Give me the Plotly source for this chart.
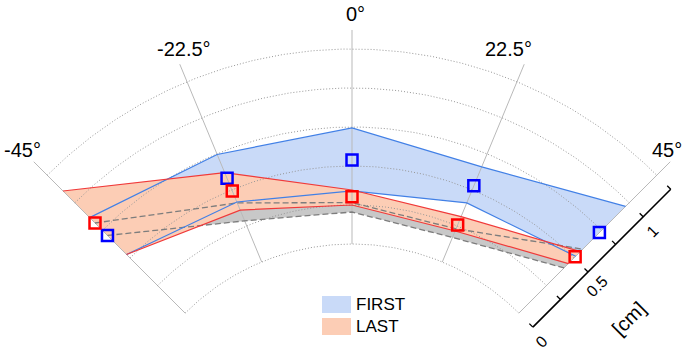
import numpy as np
import plotly.graph_objects as go

# ---------------- data (angles in degrees, radial values in cm) ----------------
angles = [-45, -22.5, 0, 22.5, 45]
first_mean = [0.704, 0.580, 0.538, 0.528, 0.730]
first_upper = [0.866, 0.746, 0.744, 0.660, 0.967]
first_lower = [0.531, 0.416, 0.340, 0.410, 0.515]
last_mean = [0.817, 0.493, 0.303, 0.257, 0.510]
last_upper = [1.107, 0.620, 0.346, 0.315, 0.558]
last_lower = [0.531, 0.360, 0.250, 0.215, 0.449]
ref_upper = [0.817, 0.410, 0.265, 0.230, 0.580]
ref_lower = [0.704, 0.285, 0.205, 0.170, 0.410]

angle_ticks = [-45, -22.5, 0, 22.5, 45]
angle_labels = ["-45°", "-22.5°", "0°", "22.5°", "45°"]
r_grid = [0, 0.25, 0.5, 0.75, 1.0, 1.25]
r_ticks = [0, 0.25, 0.5, 0.75, 1.0, 1.25]
r_ticklabel_vals = [0, 0.5, 1.0]
r_ticklabel_text = ["0", "0.5", "1"]
legend_names = ["FIRST", "LAST"]

# ---------------- geometry / style ----------------
W, H = 686, 354
PX = 156.0                 # pixels per cm
CX, CY = 352.0, 480.0      # pixel position of the polar centre
HOLE = 236.0 / PX          # inner hole radius (r = 0 sits here)
R_MAX = 1.372
FONT = "Liberation Sans, Arial, sans-serif"

BLUE_FILL = "rgba(165,193,243,0.6)"
BLUE_LINE = "rgb(66,128,230)"
RED_FILL = "rgb(252,205,181)"
RED_LINE = "rgb(240,58,58)"
GRAY_FILL = "rgb(200,200,200)"
GRAY_DASH = "rgb(125,125,125)"


def xy(theta, r):
    t = np.radians(np.asarray(theta, dtype=float))
    rr = HOLE + np.asarray(r, dtype=float)
    return rr * np.sin(t), rr * np.cos(t)


def band(upper, lower):
    th = list(angles) + list(angles[::-1])
    rr = list(upper) + list(lower[::-1])
    x, y = xy(th, rr)
    return list(x) + [x[0]], list(y) + [y[0]]


fig = go.Figure()

# ---- filled bands ----
for up, lo, col in [(ref_upper, ref_lower, GRAY_FILL),
                    (first_upper, first_lower, BLUE_FILL),
                    (last_upper, last_lower, RED_FILL)]:
    bx, by = band(up, lo)
    fig.add_trace(go.Scatter(x=bx, y=by, mode="lines", fill="toself",
                             fillcolor=col, line=dict(width=0),
                             hoverinfo="skip", showlegend=False))

# ---- grid: spokes and dotted arcs ----
for a in angle_ticks:
    sx, sy = xy([a, a], [0, R_MAX])
    fig.add_trace(go.Scatter(x=sx, y=sy, mode="lines",
                             line=dict(color="rgb(185,185,185)", width=1),
                             hoverinfo="skip", showlegend=False))
arc_t = np.linspace(angle_ticks[0], angle_ticks[-1], 181)
for rg in r_grid:
    ax_, ay_ = xy(arc_t, np.full_like(arc_t, rg))
    fig.add_trace(go.Scatter(x=ax_, y=ay_, mode="lines",
                             line=dict(color="rgb(150,150,150)", width=1, dash="1px,2px"),
                             hoverinfo="skip", showlegend=False))

# ---- reference band dashed outlines ----
for rr in (ref_upper, ref_lower):
    lx, ly = xy(angles, rr)
    fig.add_trace(go.Scatter(x=lx, y=ly, mode="lines",
                             line=dict(color=GRAY_DASH, width=1.3, dash="6px,3px"),
                             hoverinfo="skip", showlegend=False))

# ---- band outlines ----
for rr, col in [(first_upper, BLUE_LINE), (first_lower, BLUE_LINE),
                (last_upper, RED_LINE), (last_lower, RED_LINE)]:
    lx, ly = xy(angles, rr)
    fig.add_trace(go.Scatter(x=lx, y=ly, mode="lines",
                             line=dict(color=col, width=1.2),
                             hoverinfo="skip", showlegend=False))

# ---- mean markers ----
for rr, col, name in [(first_mean, "rgb(0,0,255)", legend_names[0]),
                      (last_mean, "rgb(255,0,0)", legend_names[1])]:
    mx, my = xy(angles, rr)
    fig.add_trace(go.Scatter(x=mx, y=my, mode="markers", name=name,
                             marker=dict(symbol="square-open", size=11,
                                         color=col, line=dict(width=2.5, color=col)),
                             hoverinfo="skip", showlegend=False))

# ---- offset radial axis (bottom right) ----
u = np.array([np.sin(np.radians(45)), np.cos(np.radians(45))])
n = np.array([np.sin(np.radians(135)), np.cos(np.radians(135))])
OFF = 19.8 / PX


def axpt(r, perp=0.0, along=0.0):
    return (HOLE + r) * u + (OFF + perp) * n + along * u


p0, p1 = axpt(r_ticks[0]), axpt(r_ticks[-1])
fig.add_trace(go.Scatter(x=[p0[0], p1[0]], y=[p0[1], p1[1]], mode="lines",
                         line=dict(color="black", width=1.6),
                         hoverinfo="skip", showlegend=False))
tx, ty = [], []
for rt in r_ticks:
    a = axpt(rt)
    b = axpt(rt, perp=-5 / PX)
    tx += [a[0], b[0], None]
    ty += [a[1], b[1], None]
fig.add_trace(go.Scatter(x=tx, y=ty, mode="lines",
                         line=dict(color="black", width=1.3),
                         hoverinfo="skip", showlegend=False))

annotations = []
for v, txt in zip(r_ticklabel_vals, r_ticklabel_text):
    p = axpt(v, perp=16.5 / PX, along=-4 / PX)
    annotations.append(dict(x=p[0], y=p[1], xref="x", yref="y", text=txt,
                            showarrow=False, textangle=-45,
                            xanchor="center", yanchor="middle",
                            font=dict(family=FONT, size=16, color="black")))
p = axpt(0.477, perp=62 / PX)
annotations.append(dict(x=p[0], y=p[1], xref="x", yref="y", text="[cm]",
                        showarrow=False, textangle=-45,
                        xanchor="center", yanchor="middle",
                        font=dict(family=FONT, size=20, color="black")))

# ---- angular tick labels ----
RL = 466 / PX - HOLE
label_xshift = [0, 10, 3, -22, -15]
for a, txt, xs in zip(angle_ticks, angle_labels, label_xshift):
    lx, ly = xy(a, RL)
    annotations.append(dict(x=float(lx), y=float(ly), xref="x", yref="y", text=txt,
                            showarrow=False, xanchor="center", yanchor="middle",
                            xshift=xs,
                            font=dict(family=FONT, size=20, color="black")))

# ---- legend (patches + labels) ----
shapes = []
leg_x0, leg_w, leg_h = 322, 29, 17
leg_tops = [296, 318]
for top, col, name in zip(leg_tops, ["rgb(201,218,248)", RED_FILL], legend_names):
    shapes.append(dict(type="rect", xref="paper", yref="paper",
                       x0=leg_x0 / W, x1=(leg_x0 + leg_w) / W,
                       y0=1 - (top + leg_h) / H, y1=1 - top / H,
                       fillcolor=col, line=dict(width=0), layer="above"))
    annotations.append(dict(x=(leg_x0 + leg_w + 3) / W, y=1 - (top + leg_h / 2) / H,
                            xref="paper", yref="paper", text=name, showarrow=False,
                            xanchor="left", yanchor="middle",
                            font=dict(family=FONT, size=17, color="black")))

fig.update_layout(
    width=W, height=H,
    margin=dict(l=0, r=0, t=0, b=0),
    paper_bgcolor="white", plot_bgcolor="white",
    xaxis=dict(range=[-CX / PX, (W - CX) / PX], visible=False, fixedrange=True),
    yaxis=dict(range=[(CY - H) / PX, CY / PX], visible=False, fixedrange=True),
    showlegend=False,
    hovermode=False,
    annotations=annotations,
    shapes=shapes,
)

# remove the browser's default 8px page margin so the figure fills the window
fig.write_html("out.html",
               config={"displayModeBar": False, "staticPlot": True},
               post_script="document.body.style.margin='0px';document.body.style.overflow='hidden';")
